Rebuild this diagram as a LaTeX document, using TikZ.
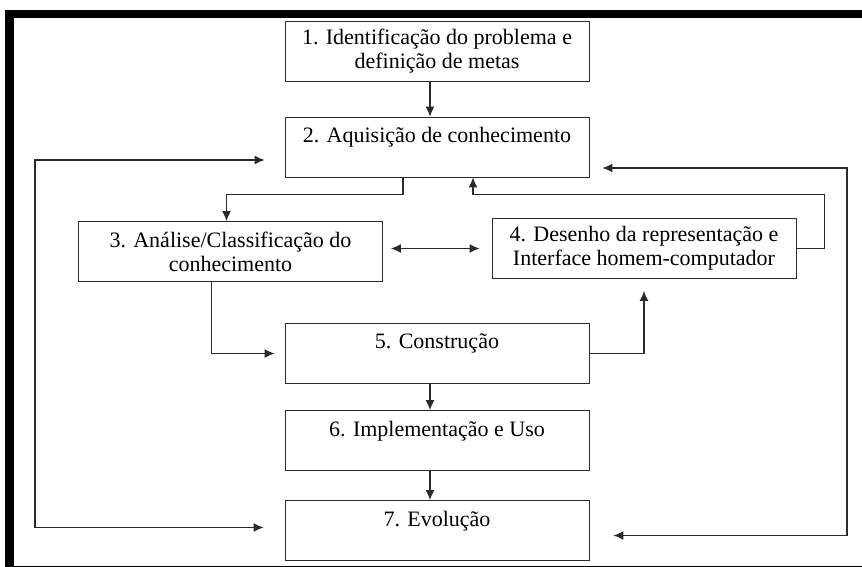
\documentclass[tikz,border=0pt]{standalone}
\usepackage{fontspec}
\setmainfont{Liberation Serif}
\usepackage{xcolor}
\usetikzlibrary{arrows.meta}
\definecolor{LineGray}{HTML}{2B2B2B}

\begin{document}
\begin{tikzpicture}[x=1pt, y=-1pt,
    etapa/.style={draw=LineGray, line width=0.9pt, minimum width=304pt,
                  minimum height=60pt, inner sep=0pt, align=center,
                  font=\fontsize{22}{24}\selectfont},
    seta/.style={draw=LineGray, line width=1.1pt, -{Latex[length=10pt,width=9pt]}},
    seta2/.style={draw=LineGray, line width=1.1pt,
                  {Latex[length=10pt,width=9pt]}-{Latex[length=10pt,width=9pt]}}]
  \useasboundingbox (0,0) rectangle (862,567);
  % moldura
  \fill[black] (5,10) rectangle (862,18);
  \fill[black] (5,10) rectangle (14,567);
  \draw[line width=1pt] (5,566) -- (862,566);

  % etapas
  \node[etapa] (ident) at (437,51.5) {1. Identificação do problema e\\definição de metas};
  \node[etapa] (aquis) at (437,147) {2. Aquisição de conhecimento\\\mbox{}};
  \node[etapa] (anal) at (230.5,251.5) {3. Análise/Classificação do\\conhecimento};
  \node[etapa] (desenho) at (644,248.5) {4. Desenho da representação e\\Interface homem-computador};
  \node[etapa] (constr) at (437,353.5) {5. Construção\\\mbox{}};
  \node[etapa] (implem) at (437,440.5) {6. Implementação e Uso\\\mbox{}};
  \node[etapa] (evol) at (437,530.5) {7. Evolução\\\mbox{}};

  \coordinate (lft) at (35,340);
  \coordinate (rgt) at (847,340);

  % ligacoes
  \draw[seta] ([xshift=-7]ident.south) -- ([xshift=-7]aquis.north);
  \draw[seta] ([xshift=-34]aquis.south) -- ++(0,17) -| ([xshift=-4]anal.north);
  \draw[seta2, shorten <=8pt, shorten >=12pt] (anal.east |- desenho.west) -- (desenho.west);
  \draw[seta] (desenho.east) -- ++(28,0) |- ([xshift=36,yshift=-17]aquis.south)
              -- ([xshift=36]aquis.south);
  \draw[seta, shorten >=10pt] ([xshift=-19]anal.south) |- (constr.west);
  \draw[seta, shorten >=12pt] (constr.east) -| (desenho.south);
  \draw[seta] ([xshift=-7]constr.south) -- ([xshift=-7]implem.north);
  \draw[seta] ([xshift=-7]implem.south) -- ([xshift=-7]evol.north);
  \draw[seta2, shorten <=20pt, shorten >=21pt] ([yshift=-13]aquis.west) -| (lft)
              |- ([yshift=3]evol.west);
  \draw[seta2, shorten <=13pt, shorten >=24pt] ([yshift=-21]aquis.east) -| (rgt)
              |- ([yshift=-5]evol.east);
\end{tikzpicture}
\end{document}
